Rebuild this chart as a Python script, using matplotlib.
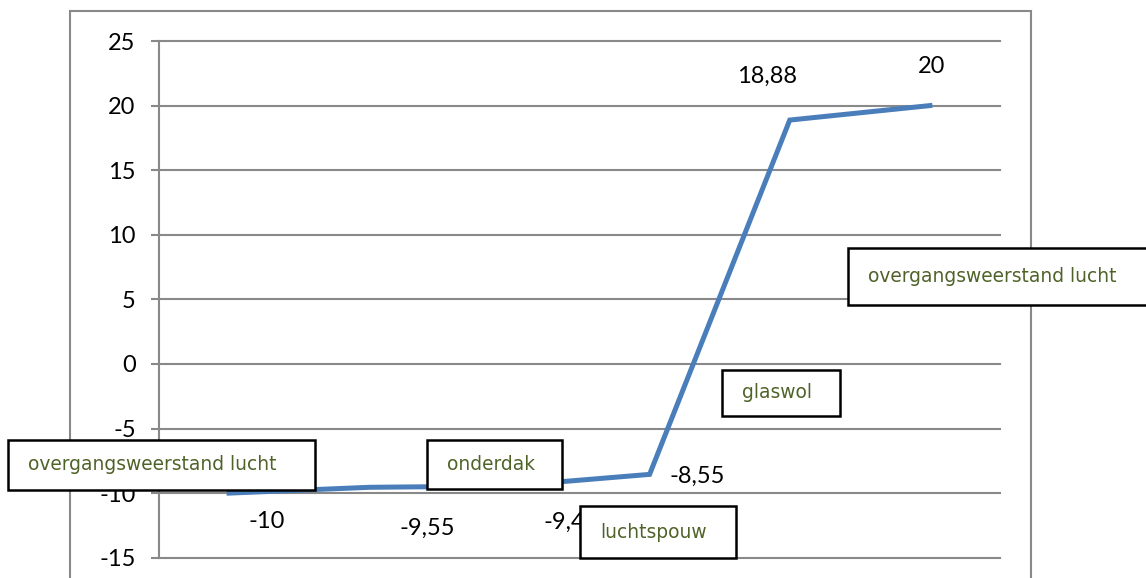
import matplotlib
matplotlib.use("Agg")
import matplotlib.pyplot as plt
from matplotlib.patches import Rectangle

plt.rcParams['axes.unicode_minus'] = False

# ---- data ----
categories = ["1", "2", "3", "4", "5", "6"]
values = [-10, -9.55, -9.45, -8.55, 18.88, 20]
value_labels = ["-10", "-9,55", "-9,45", "-8,55", "18,88", "20"]
yticks = [-15, -10, -5, 0, 5, 10, 15, 20, 25]
box_texts = ["overgangsweerstand lucht", "onderdak", "luchtspouw", "glaswol",
             "overgangsweerstand lucht"]

# ---- style / layout ----
W, H = 1146, 578
label_offsets = [(38, -28), (58, -41), (62, -36), (48, -2), (-23, 44), (2, 39)]  # pixels
box_rects = [(8, 440, 315, 490), (427, 440, 562, 489), (580, 506, 736, 558),
             (722, 370, 840, 416), (848, 248, 1150, 305)]  # x0,y0,x1,y1 pixels from top-left
GRID = "#898989"
LINE = "#4A7EBB"
GREEN = "#4F6228"

fig = plt.figure(figsize=(W / 100, H / 100), dpi=100)

# outer chart frame
fig.patches.append(Rectangle((70 / W, -0.1), (1031 - 70) / W, 1.1 - 11 / H,
                             transform=fig.transFigure, fill=False,
                             edgecolor=GRID, linewidth=1.5, zorder=0))

ax_left, ax_right = 159 / W, 1000 / W
y_top, y_bot = 41, 557.7
ax = fig.add_axes([ax_left, 1 - y_bot / H, ax_right - ax_left, (y_bot - y_top) / H])
ax.set_facecolor("none")

x = list(range(len(categories)))
ax.plot(x, values, color=LINE, linewidth=3.6, solid_joinstyle="miter", zorder=3)
ax.set_xlim(-0.5, len(categories) - 0.5)
ax.set_ylim(-15, 25)
ax.set_yticks(yticks)
ax.set_yticklabels([str(t) for t in yticks], fontfamily="Lato", fontsize=17)
ax.set_xticks([])
for t in yticks:
    ax.axhline(t, color=GRID, linewidth=1.5, zorder=1, clip_on=False)
for s in ["top", "right", "bottom"]:
    ax.spines[s].set_visible(False)
ax.spines["left"].set_color(GRID)
ax.spines["left"].set_linewidth(1.5)
ax.tick_params(axis="y", length=8 * 72 / 100, width=1.5, color=GRID, pad=11)

for xi, v, lab, off in zip(x, values, value_labels, label_offsets):
    ax.annotate(lab, (xi, v), xytext=(off[0] * 0.72, off[1] * 0.72),
                textcoords="offset points", ha="center", va="center",
                fontfamily="Lato", fontsize=17, color="black", zorder=4)

for txt, (x0, y0, x1, y1) in zip(box_texts, box_rects):
    fig.patches.append(Rectangle((x0 / W, 1 - y1 / H), (x1 - x0) / W, (y1 - y0) / H,
                                 transform=fig.transFigure, facecolor="white",
                                 edgecolor="black", linewidth=1.8, zorder=5))
    fig.text((x0 + 20) / W, 1 - ((y0 + y1) / 2) / H, txt, ha="left", va="center",
             fontfamily="DejaVu Sans", fontsize=13.4, color=GREEN, zorder=6)

fig.savefig("out.png", dpi=100)
